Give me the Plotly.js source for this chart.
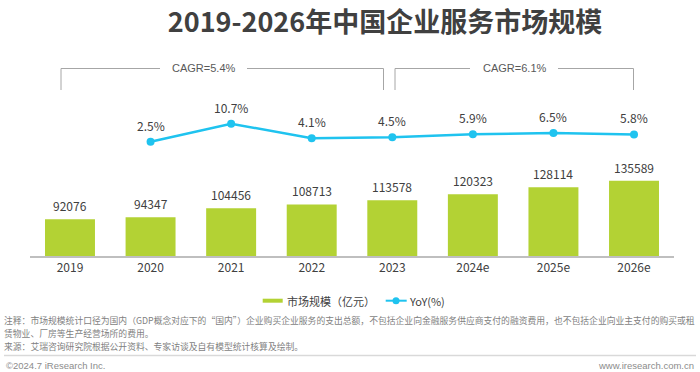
<!DOCTYPE html>
<html>
<head>
<meta charset="utf-8">
<script src="https://cdn.plot.ly/plotly-3.0.1.min.js"></script>
<style>
html,body{margin:0;padding:0;background:#fff;}
#chart{width:700px;height:372px;}
</style>
</head>
<body>
<div id="chart"></div>
<script>
// ---- data ----
const categories = ['2019','2020','2021','2022','2023','2024e','2025e','2026e'];
const marketSize = [92076, 94347, 104456, 108713, 113578, 120323, 128114, 135589];
const yoyCategories = ['2020','2021','2022','2023','2024e','2025e','2026e'];
const yoyValues = [2.5, 10.7, 4.1, 4.5, 5.9, 6.5, 5.8];
const seriesNames = ['市场规模（亿元）', 'YoY(%)'];
const cagrLabels = ['CAGR=5.4%', 'CAGR=6.1%'];
const titleText = '2019-2026年中国企业服务市场规模';
const noteLines = [
  '注释：市场规模统计口径为国内（GDP概念对应下的“国内”）企业购买企业服务的支出总额，不包括企业向金融服务供应商支付的融资费用，也不包括企业向业主支付的购买或租',
  '赁物业、厂房等生产经营场所的费用。',
  '来源：艾瑞咨询研究院根据公开资料、专家访谈及自有模型统计核算及绘制。'
];
const footerLeft = '©2024.7 iResearch Inc.';
const footerRight = 'www.iresearch.com.cn';

// ---- helpers (pixel -> paper) ----
const W = 700, H = 372;
const px = x => x / W;
const py = y => 1 - y / H;

const GREEN = '#b3d234';
const BLUE = '#1fc3ef';
const CJK = '"Noto Sans CJK SC", "Microsoft YaHei", sans-serif';
const LAT = '"Liberation Sans", Arial, sans-serif';
const TXT = '#404040';

const barTrace = {
  type: 'bar', x: categories, y: marketSize, name: seriesNames[0],
  marker: {color: GREEN}, width: 0.62, hoverinfo: 'skip', yaxis: 'y', xaxis: 'x'
};
const lineTrace = {
  type: 'scatter', mode: 'lines+markers', x: yoyCategories, y: yoyValues, name: seriesNames[1],
  line: {color: BLUE, width: 2.5}, marker: {color: BLUE, size: 8}, hoverinfo: 'skip',
  yaxis: 'y2', xaxis: 'x'
};

const annotations = [];
// on a category axis, annotation x is given as the category index
categories.forEach((c, i) => {
  annotations.push({x: i, y: marketSize[i], xref: 'x', yref: 'y', text: String(marketSize[i]),
    showarrow: false, yanchor: 'middle', yshift: 13.6, font: {family: CJK, size: 12, color: TXT}});
});
yoyCategories.forEach((c, i) => {
  annotations.push({x: categories.indexOf(c), y: yoyValues[i], xref: 'x', yref: 'y2',
    text: yoyValues[i].toFixed(1) + '%',
    showarrow: false, yanchor: 'middle', yshift: 16.5, font: {family: CJK, size: 12, color: TXT}});
});
// CAGR labels
const cagrCenters = [203, 514];
cagrLabels.forEach((t, i) => {
  annotations.push({x: px(cagrCenters[i]), y: py(68.5), xref: 'paper', yref: 'paper', text: t,
    showarrow: false, xanchor: 'center', yanchor: 'middle',
    font: {family: LAT, size: 11, color: '#595959'}});
});
// legend texts
annotations.push({x: px(285), y: py(300.7), xref: 'paper', yref: 'paper', text: seriesNames[0],
  showarrow: false, xanchor: 'left', yanchor: 'middle', font: {family: CJK, size: 11, color: TXT}});
annotations.push({x: px(407), y: py(300.7), xref: 'paper', yref: 'paper', text: seriesNames[1],
  showarrow: false, xanchor: 'left', yanchor: 'middle', font: {family: CJK, size: 11, color: TXT}});
// notes
const noteY = [320.8, 333.5, 346.2];
noteLines.forEach((t, i) => {
  annotations.push({x: px(3), y: py(noteY[i]), xref: 'paper', yref: 'paper', text: t,
    showarrow: false, xanchor: 'left', yanchor: 'middle', borderpad: 0,
    font: {family: CJK, size: 8.8, color: '#7f7f7f'}});
});
annotations.push({x: px(4), y: py(365), xref: 'paper', yref: 'paper', text: footerLeft,
  showarrow: false, xanchor: 'left', yanchor: 'middle', font: {family: LAT, size: 9.5, color: '#8c8c8c'}});
annotations.push({x: px(696), y: py(365), xref: 'paper', yref: 'paper', text: footerRight,
  showarrow: false, xanchor: 'right', yanchor: 'middle', font: {family: LAT, size: 9.5, color: '#8c8c8c'}});

const GRAY = '#a6a6a6';
const line = (x0, y0, x1, y1, color, w) => ({type: 'line', xref: 'paper', yref: 'paper',
  x0: px(x0), y0: py(y0), x1: px(x1), y1: py(y1), line: {color: color, width: w}});
const shapes = [
  // bracket 1
  line(61, 68.5, 160, 68.5, GRAY, 1), line(247, 68.5, 383.5, 68.5, GRAY, 1),
  line(61, 68.5, 61, 90, GRAY, 1), line(383.5, 68.5, 383.5, 90, GRAY, 1),
  // bracket 2
  line(395, 68.5, 470, 68.5, GRAY, 1), line(558, 68.5, 633.5, 68.5, GRAY, 1),
  line(395, 68.5, 395, 90, GRAY, 1), line(633.5, 68.5, 633.5, 90, GRAY, 1),
  // legend
  {type: 'rect', xref: 'paper', yref: 'paper', x0: px(262.7), x1: px(282.7), y0: py(302.7), y1: py(298.7),
    fillcolor: GREEN, line: {width: 0}},
  line(385.7, 300.7, 406.7, 300.7, BLUE, 2),
  {type: 'circle', xref: 'paper', yref: 'paper', x0: px(392.5), x1: px(399.5), y0: py(304.2), y1: py(297.2),
    fillcolor: BLUE, line: {width: 0}},
  // separator
  line(4, 355.5, 696, 355.5, '#d9d9d9', 1.5)
];

const layout = {
  width: W, height: H,
  margin: {l: 0, r: 0, t: 0, b: 0},
  paper_bgcolor: '#ffffff', plot_bgcolor: 'rgba(0,0,0,0)',
  showlegend: false,
  title: {text: '<b>' + titleText + '</b>', x: px(385), xanchor: 'center', y: py(23), yanchor: 'middle',
    font: {family: CJK, size: 27, color: TXT}},
  xaxis: {type: 'category', domain: [px(29.7), px(674.3)], range: [-0.5, 7.5],
    showline: true, linecolor: '#bfbfbf', linewidth: 1.5, showgrid: false, zeroline: false,
    ticks: '', tickfont: {family: CJK, size: 12, color: TXT}, fixedrange: true},
  yaxis: {domain: [py(256), py(56)], range: [50701, 276180], visible: false, showgrid: false, zeroline: false, fixedrange: true},
  yaxis2: {overlaying: 'y', range: [-49.57, 41.55], visible: false, showgrid: false, zeroline: false, fixedrange: true},
  annotations: annotations,
  shapes: shapes
};

Plotly.newPlot('chart', [barTrace, lineTrace], layout, {displayModeBar: false, staticPlot: true});
</script>
</body>
</html>
